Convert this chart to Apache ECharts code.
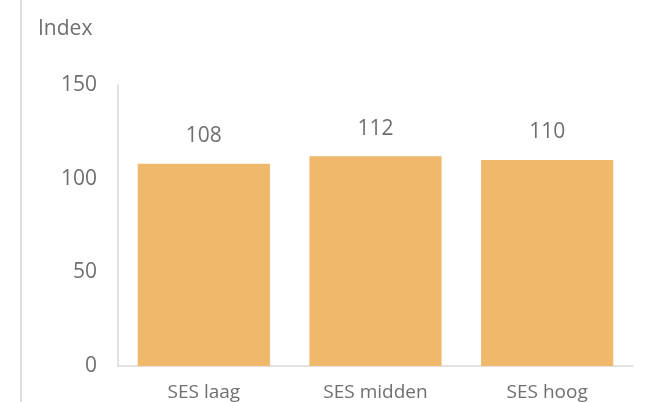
<!DOCTYPE html>
<html>
<head>
<meta charset="utf-8">
<script src="https://cdn.jsdelivr.net/npm/echarts@6/dist/echarts.min.js"></script>
<style>
  html, body { margin: 0; padding: 0; background: #fff; }
  #chart { width: 647px; height: 402px; }
</style>
</head>
<body>
<div id="chart"></div>
<script>
const categories = ['SES laag', 'SES midden', 'SES hoog']
const indexValues = [108, 112, 110]
const yTicks = [0, 50, 100, 150]

const chart = echarts.init(document.getElementById('chart'))
chart.setOption({
  animation: false,
  textStyle: { fontFamily: 'Open Sans' },
  graphic: [
    {
      type: 'rect',
      shape: { x: 20, y: 0, width: 2, height: 402 },
      style: { fill: '#e0e0e0' }
    },
    {
      type: 'text',
      left: 38,
      top: 19,
      style: { text: 'Index', fill: '#6f6f6f', fontSize: 21, fontFamily: 'Open Sans' }
    }
  ],
  grid: { left: 118, right: 14, top: 85, bottom: 36 },
  xAxis: {
    type: 'category',
    data: categories,
    axisLine: { lineStyle: { color: '#d9d9d9', width: 1.5 } },
    axisTick: { show: false },
    axisLabel: { color: '#6f6f6f', fontSize: 19, margin: 17 }
  },
  yAxis: {
    type: 'value',
    min: yTicks[0],
    max: yTicks[yTicks.length - 1],
    interval: 50,
    axisLine: { show: true, lineStyle: { color: '#d9d9d9', width: 1.5 } },
    axisTick: { show: false },
    splitLine: { show: false },
    axisLabel: { color: '#6f6f6f', fontSize: 21, margin: 21 }
  },
  series: [
    {
      type: 'bar',
      data: indexValues,
      barWidth: '77%',
      itemStyle: { color: '#f0b86b' },
      label: {
        show: true,
        position: 'top',
        distance: 17,
        color: '#6f6f6f',
        fontSize: 21
      }
    }
  ]
})
</script>
</body>
</html>
